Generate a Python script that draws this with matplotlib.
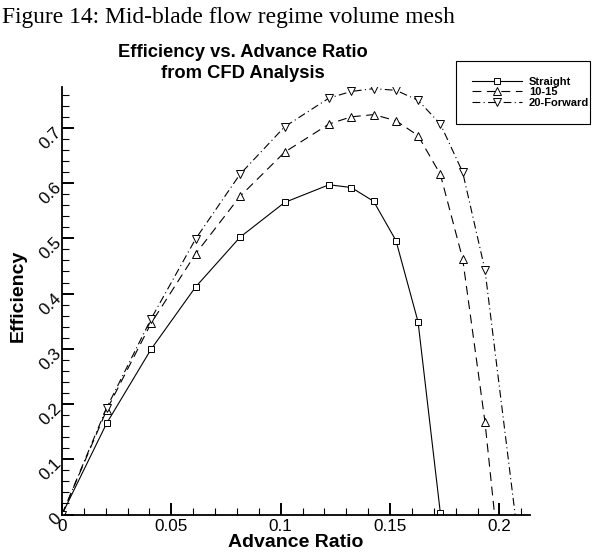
import numpy as np
import matplotlib.pyplot as plt
from matplotlib.ticker import MultipleLocator
from matplotlib.lines import Line2D
from matplotlib.transforms import ScaledTranslation

plt.rcParams['font.family'] = ['Liberation Sans', 'DejaVu Sans']

# advance ratio at the sample points
adv = [0, 0.0204, 0.0407, 0.0611, 0.0814, 0.1018, 0.1221, 0.1323, 0.1425,
       0.1527, 0.1628, 0.1730, 0.1832, 0.1934]

eff_straight = [0, 0.165, 0.299, 0.412, 0.502, 0.565, 0.597, 0.592, 0.567,
                0.496, 0.349, 0.003]
eff_1015 = [0, 0.189, 0.346, 0.472, 0.576, 0.656, 0.707, 0.720, 0.724,
            0.713, 0.686, 0.616, 0.463, 0.168]
eff_fwd = [0, 0.193, 0.354, 0.499, 0.616, 0.702, 0.754, 0.766, 0.771,
           0.768, 0.750, 0.707, 0.620, 0.443]

# where the curves come down to zero efficiency
end_1015 = 0.1978
end_fwd = 0.2072

labels = ["Straight", "10-15", "20-Forward"]

fig = plt.figure(figsize=(5.92, 5.54), dpi=100)
ax = fig.add_axes([62/592, 1 - 514.5/554, (530 - 62)/592, (514.5 - 87)/554])

x_s = adv[:len(eff_straight)]
ax.plot(x_s, eff_straight, color="black", lw=0.8, ls="-")
ax.plot(x_s, eff_straight, ls="none", marker="s", ms=4.5, mfc="white",
        mec="black", mew=0.7)

ax.plot(adv + [end_1015], eff_1015 + [0], color="black", lw=0.8,
        dashes=(8, 5))
ax.plot(adv, eff_1015, ls="none", marker="^", ms=5.5, mfc="white",
        mec="black", mew=0.7)

ax.plot(adv + [end_fwd], eff_fwd + [0], color="black", lw=0.8,
        dashes=(7, 3, 1, 3))
ax.plot(adv, eff_fwd, ls="none", marker="v", ms=5.5, mfc="white",
        mec="black", mew=0.7)

ax.set_xlim(0, 0.214)
ax.set_ylim(0, 0.774)
for s in ["top", "right"]:
    ax.spines[s].set_visible(False)
for s in ["left", "bottom"]:
    ax.spines[s].set_linewidth(1.3)

ax.xaxis.set_minor_locator(MultipleLocator(0.01))
ax.yaxis.set_minor_locator(MultipleLocator(0.02))
ax.set_xticks([0, 0.05, 0.1, 0.15, 0.2])
ax.set_xticklabels(["0", "0.05", "0.1", "0.15", "0.2"])
ax.set_yticks([0, 0.1, 0.2, 0.3, 0.4, 0.5, 0.6, 0.7])
ax.set_yticklabels(["0", "0.1", "0.2", "0.3", "0.4", "0.5", "0.6", "0.7"])
ax.tick_params(which="major", direction="in", length=8.5, width=1.4,
               labelsize=12.3)
ax.tick_params(which="minor", direction="in", length=4.8, width=0.8)
ax.tick_params(axis="x", pad=3)
ax.tick_params(axis="y", pad=3)
# tilted y labels, nudged down a little like the original
nudge = ScaledTranslation(1/100, -2/100, fig.dpi_scale_trans)
for t in ax.get_yticklabels():
    t.set_rotation(45)
    t.set_rotation_mode("anchor")
    t.set_ha("right")
    t.set_va("center")
    t.set_transform(t.get_transform() + nudge)

ax.set_xlabel("Advance Ratio", fontsize=14, fontweight="bold", labelpad=0)
ax.set_ylabel("Efficiency", fontsize=14, fontweight="bold")
ax.yaxis.set_label_coords(18/592, 1 - 296/554, transform=fig.transFigure)
ax.yaxis.label.set_va("center")

fig.text(0.003, 1 - 23/554, "Figure 14: Mid-blade flow regime volume mesh",
         family="Liberation Serif", fontsize=16.9, va="baseline")
fig.text(243/592, 1 - 57/554, "Efficiency vs. Advance Ratio",
         fontsize=13.2, fontweight="bold", ha="center", va="baseline")
fig.text(243/592, 1 - 78/554, "from CFD Analysis",
         fontsize=13.2, fontweight="bold", ha="center", va="baseline")

handles = [
    Line2D([], [], color="black", lw=0.8, marker="s", ms=4.5, mfc="white",
           mec="black", mew=0.7),
    Line2D([], [], color="black", lw=0.8, dashes=(8, 5), marker="^", ms=5.5,
           mfc="white", mec="black", mew=0.7),
    Line2D([], [], color="black", lw=0.8, dashes=(7, 3, 1, 3), marker="v",
           ms=5.5, mfc="white", mec="black", mew=0.7),
]
leg = ax.legend(handles, labels, loc="upper left", mode="expand",
                bbox_to_anchor=(456/592, 1 - 117/554, (590 - 456)/592, 56/554),
                bbox_transform=fig.transFigure, prop={"weight": "bold", "size": 8},
                numpoints=1, handlelength=4.5, handletextpad=0.63,
                labelspacing=0.05, borderpad=1.42, borderaxespad=0,
                fancybox=False, framealpha=1, edgecolor="black")
leg.get_frame().set_linewidth(0.8)

fig.savefig("out.png", dpi=100)
